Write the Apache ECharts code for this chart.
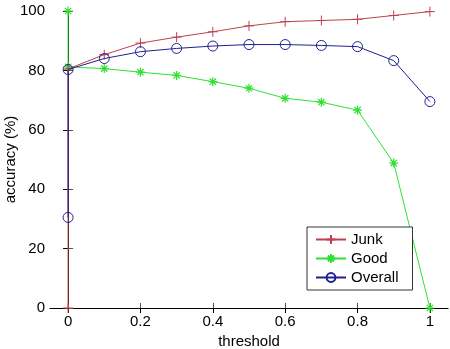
<!DOCTYPE html>
<html><head><meta charset="utf-8">
<script src="https://cdn.jsdelivr.net/npm/echarts@6/dist/echarts.min.js"></script>
<style>html,body{margin:0;padding:0;background:#fff}#c{width:450px;height:349px}</style>
</head><body><div id="c"></div>
<script>
const thresholds = [0, 0, 0.1, 0.2, 0.3, 0.4, 0.5, 0.6, 0.7, 0.8, 0.9, 1.0];
const junk    = [0, 80.5, 85.3, 89.2, 91.2, 93.0, 95.0, 96.4, 96.8, 97.2, 98.5, 99.8];
const good    = [100, 81.2, 80.6, 79.4, 78.3, 76.2, 74.0, 70.6, 69.3, 66.6, 48.8, 0];
const overall = [30.5, 80.3, 84.0, 86.3, 87.4, 88.2, 88.7, 88.7, 88.4, 88.0, 83.3, 69.5];
const xTicks = [0, 0.2, 0.4, 0.6, 0.8, 1];
const yTicks = [0, 20, 40, 60, 80, 100];

const pts = arr => thresholds.map((t, i) => [t, arr[i]]);
const plus = 'path://M5,0L5,10M0,5L10,5';
const star = 'path://M5,0L5,10M0,5L10,5M1.5,1.5L8.5,8.5M1.5,8.5L8.5,1.5';
const FONT = 'Liberation Sans';
const red = '#c04050', green = '#30e030', blue = '#202090';

const chart = echarts.init(document.getElementById('c'));
const axisBase = {
  min: -0.05, max: 1.05, type: 'value',
  splitLine: {show: false},
};
chart.setOption({
  animation: false,
  textStyle: {fontFamily: FONT},
  grid: {left: 50, top: 11, right: 2, bottom: 41, containLabel: false, outerBoundsMode: 'none'},
  xAxis: [
    Object.assign({}, axisBase, {
      position: 'bottom',
      name: 'threshold', nameLocation: 'middle', nameGap: 26, nameMoveOverlap: false,
      nameTextStyle: {fontSize: 15, color: '#000', fontFamily: FONT},
      axisLine: {lineStyle: {color: '#777', width: 1}},
      axisTick: {inside: true, length: 5, customValues: xTicks, lineStyle: {color: '#555'}},
      axisLabel: {customValues: xTicks, fontSize: 15, color: '#000', margin: 6, fontFamily: FONT},
    }),
    Object.assign({}, axisBase, {
      position: 'top',
      axisLine: {lineStyle: {color: '#000', width: 1}},
      axisTick: {inside: true, length: 5, customValues: xTicks, lineStyle: {color: '#000'}},
      axisLabel: {show: false},
    })
  ],
  yAxis: [
    {
      type: 'value', min: 0, max: 100, interval: 20, position: 'left',
      name: 'accuracy (%)', nameLocation: 'middle', nameGap: 32, nameRotate: 90, nameMoveOverlap: false,
      nameTextStyle: {fontSize: 15, color: '#000', fontFamily: FONT},
      splitLine: {show: false},
      axisLine: {show: true, lineStyle: {color: '#777'}},
      axisTick: {show: true, inside: true, length: 5, customValues: yTicks, lineStyle: {color: '#555'}},
      axisLabel: {customValues: yTicks, fontSize: 15, color: '#000', margin: 5, fontFamily: FONT},
    },
    {
      type: 'value', min: 0, max: 100, interval: 20, position: 'right',
      splitLine: {show: false},
      axisLine: {show: true, lineStyle: {color: '#000'}},
      axisTick: {show: true, inside: true, length: 5, lineStyle: {color: '#000'}},
      axisLabel: {show: false},
    }
  ],
  legend: {
    orient: 'vertical', left: 307, top: 227, width: 107,
    backgroundColor: '#fff', borderColor: '#333', borderWidth: 1, borderRadius: 0,
    padding: [5, 14, 5, 8], itemGap: 4, itemWidth: 30, itemHeight: 11,
    textStyle: {fontSize: 15, color: '#000', fontFamily: FONT},
    data: ['Junk', 'Good', 'Overall']
  },
  series: [
    {name: 'Junk', type: 'line', data: pts(junk), symbol: plus, symbolSize: 10,
     lineStyle: {color: red, width: 1}, itemStyle: {color: 'rgba(0,0,0,0)', borderColor: red, borderWidth: 1}, z: 3},
    {name: 'Good', type: 'line', data: pts(good), symbol: star, symbolSize: 9,
     lineStyle: {color: green, width: 1}, itemStyle: {color: 'rgba(0,0,0,0)', borderColor: green, borderWidth: 1.2}, z: 2},
    {name: 'Overall', type: 'line', data: pts(overall), symbol: 'circle', symbolSize: 10,
     lineStyle: {color: blue, width: 1}, itemStyle: {color: 'rgba(0,0,0,0)', borderColor: blue, borderWidth: 1}, z: 4}
  ]
});
</script></body></html>
